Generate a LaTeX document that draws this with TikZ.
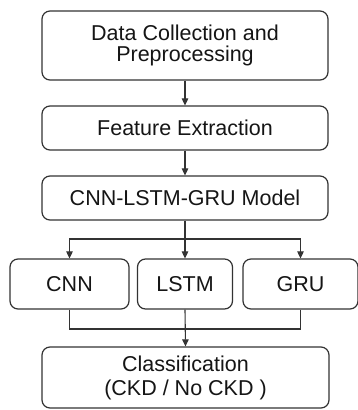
\documentclass[tikz,border=0pt]{standalone}
\usepackage{fontspec}
\setmainfont{Liberation Sans}
\usetikzlibrary{arrows.meta}
\definecolor{edge}{HTML}{333333}
\definecolor{ink}{HTML}{151515}
\begin{document}
\begin{tikzpicture}[x=1pt,y=-1pt,
  box/.style={draw=edge, line width=1.2pt, rounded corners=8pt, align=center,
    text=ink, inner sep=0pt, font=\fontsize{21.5}{21.7}\selectfont},
  link/.style={draw=edge, line width=1.1pt},
  flow/.style={link, -{Triangle[length=7pt,width=6.5pt]}}]
  \useasboundingbox[fill=white] (0,0) rectangle (358,410);

  % main pipeline
  \node[box, minimum width=286pt, minimum height=69pt] (data) at (185,45.5)
    {Data Collection and\\Preprocessing};
  \node[box, minimum width=286pt, minimum height=44pt] (feat) at (185,128)
    {Feature Extraction};
  \node[box, minimum width=286pt, minimum height=44pt] (model) at (185,198)
    {CNN-LSTM-GRU Model};

  % parallel branches
  \node[box, minimum width=119pt, minimum height=50pt] (cnn) at (69.5,284) {CNN};
  \node[box, minimum width=95pt, minimum height=50pt] (lstm) at (185,284) {LSTM};
  \node[box, minimum width=115pt, minimum height=50pt] (gru) at (300.5,284) {GRU};

  % output
  \node[box, minimum width=287pt, minimum height=61pt,
    font=\fontsize{21.5}{24}\selectfont] (cls) at (185.5,377.5)
    {Classification\\(CKD / No CKD )};

  \coordinate (split) at (185,239);
  \coordinate (merge) at (185,329);

  \draw[flow] (data) -- (feat);
  \draw[flow] (feat) -- (model);
  \draw[link] (model) -- (split);
  \draw[flow] (split) -| (cnn.north);
  \draw[flow] (split) -- (lstm.north);
  \draw[flow] (split) -| (gru.north);
  \draw[link] (cnn.south) |- (merge);
  \draw[link] (gru.south) |- (merge);
  \draw[flow] (lstm.south) -- (cls.north);
\end{tikzpicture}
\end{document}
